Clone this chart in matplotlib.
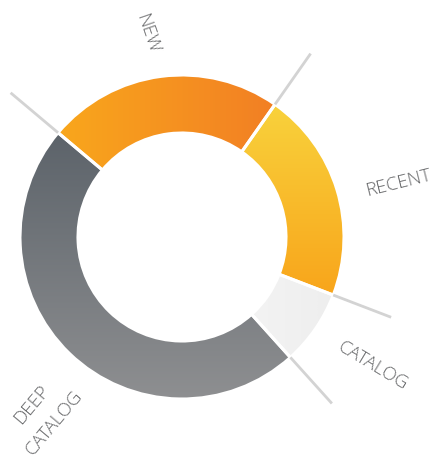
import numpy as np
import matplotlib
matplotlib.use('Agg')
import matplotlib.pyplot as plt
from matplotlib.colors import LinearSegmentedColormap

# segments, counterclockwise starting at the RECENT/CATALOG border
labels = ['RECENT', 'NEW', 'DEEP\nCATALOG', 'CATALOG']
shares = [21.1, 23.6, 47.8, 7.5]
start_angle = -21

# gradient colours: start colour (top / left), end colour (bottom / right), direction
grad_from = ['#f9d23c', '#f9a71c', '#5c636a', '#f3f3f3']
grad_to = ['#f8a51b', '#f27f24', '#8e8f91', '#eeeeee']
grad_dir = ['v', 'h', 'v', 'h']

# layout, in pixels (y up)
W, H = 439, 468
cx, cy = 182, 231
R, r = 162, 104
line_end = 224
label_xy = [(398, 285), (147, 434), (43, 54), (373, 102)]
label_rot = [14, -71, 50, -31]

fig = plt.figure(figsize=(W / 100, H / 100), dpi=100)
ax = fig.add_axes([0, 0, 1, 1])

wedges, _ = ax.pie(shares, startangle=start_angle, counterclock=True,
                   center=(cx, cy), radius=R, frame=True,
                   wedgeprops=dict(width=R - r, edgecolor='white', linewidth=2.2))
ax.set_xlim(0, W)
ax.set_ylim(0, H)
ax.set_aspect('equal')
ax.axis('off')

for w, c0, c1, d in zip(wedges, grad_from, grad_to, grad_dir):
    w.set_facecolor('none')
    w.set_zorder(2)
    cmap = LinearSegmentedColormap.from_list('g', [c0, c1])
    g = np.linspace(0, 1, 256)
    a = np.linspace(np.radians(w.theta1), np.radians(w.theta2), 60)
    xs = np.concatenate([cx + R * np.cos(a), cx + r * np.cos(a)])
    ys = np.concatenate([cy + R * np.sin(a), cy + r * np.sin(a)])
    if d == 'v':
        img = g.reshape(-1, 1) * np.ones((1, 2))
    else:
        img = np.ones((2, 1)) * g.reshape(1, -1)
    im = ax.imshow(img, cmap=cmap, origin='upper', aspect='auto',
                   extent=(xs.min(), xs.max(), ys.min(), ys.max()),
                   interpolation='bilinear', zorder=1)
    im.set_clip_path(w)

# grey leader lines at the segment borders
ang = start_angle
for s in shares:
    t = np.radians(ang)
    ax.plot([cx + R * np.cos(t), cx + line_end * np.cos(t)],
            [cy + R * np.sin(t), cy + line_end * np.sin(t)],
            color='#d3d3d3', lw=2, solid_capstyle='butt', zorder=3)
    ang += s * 3.6

for lab, (x, y), rot in zip(labels, label_xy, label_rot):
    ax.text(x, y, lab, rotation=rot, ha='center', va='center',
            rotation_mode='anchor', fontsize=13.5, color='#666769',
            family='Open Sans', weight='light', linespacing=1.75)

fig.savefig('out.png', dpi=100, facecolor='white')
